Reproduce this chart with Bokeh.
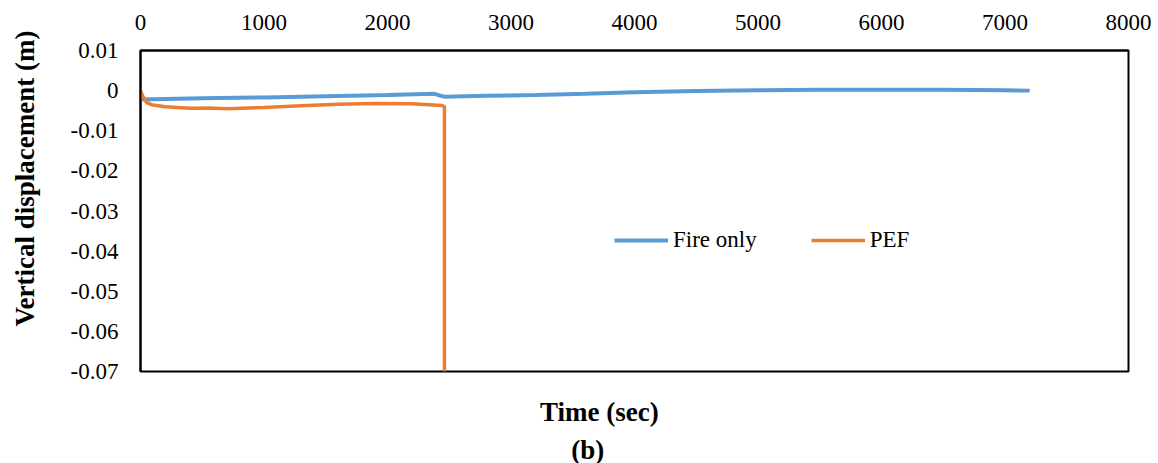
import math
from bokeh.plotting import figure
from bokeh.layouts import row, column
from bokeh.models import (FixedTicker, CustomJSTickFormatter, Label, Legend, LegendItem, Range1d)
from bokeh.embed import file_html
from bokeh.resources import INLINE

# ---- data ----
time_fire = [0, 500, 1000, 1500, 2000, 2380, 2420, 2460, 2800, 3200, 3600, 4000,
             4500, 5000, 5500, 6000, 6500, 7000, 7200]
disp_fire = [-0.0022, -0.0019, -0.0017, -0.0014, -0.0011, -0.0008, -0.0012, -0.0015,
             -0.0013, -0.0011, -0.0008, -0.0004, -0.0001, 0.0001, 0.0002, 0.0002,
             0.0002, 0.0001, 0.0000]

time_pef = [0, 20, 50, 100, 200, 400, 550, 700, 1000, 1300, 1600, 1900, 2200,
            2440, 2461, 2461]
disp_pef = [0.0000, -0.0015, -0.0030, -0.0036, -0.0040, -0.0044, -0.0043, -0.0045,
            -0.0042, -0.0038, -0.0034, -0.0032, -0.0033, -0.0037, -0.0040, -0.0700]

x_ticks = [0, 1000, 2000, 3000, 4000, 5000, 6000, 7000, 8000]
y_ticks = [0.01, 0.0, -0.01, -0.02, -0.03, -0.04, -0.05, -0.06, -0.07]

series_names = ["Fire only", "PEF"]
x_title = "Time (sec)"
y_title = "Vertical displacement (m)"
caption = "(b)"

BLUE = "#5B9BD5"
ORANGE = "#ED7D31"
FONT = "Liberation Serif"

LEFT_W = 60          # strip holding the vertical axis title
MAIN_W = 1158 - LEFT_W
MAIN_H = 390
BOT_H = 463 - MAIN_H

# ---- main chart ----
p = figure(width=MAIN_W, height=MAIN_H, output_backend="svg", toolbar_location=None,
           x_range=Range1d(0, 8000), y_range=Range1d(-0.07, 0.01),
           x_axis_location="above", min_border_left=140 - LEFT_W, min_border_right=30,
           min_border_top=50, min_border_bottom=MAIN_H - 371)
p.background_fill_color = "white"
p.border_fill_color = "white"
p.outline_line_color = "black"
p.outline_line_width = 2
p.xgrid.visible = False
p.ygrid.visible = False

for ax in (p.xaxis[0], p.yaxis[0]):
    ax.axis_line_color = "black"
    ax.axis_line_width = 2
    ax.major_tick_out = 0
    ax.major_tick_in = 0
    ax.minor_tick_out = 0
    ax.minor_tick_in = 0
    ax.major_label_text_font = FONT
    ax.major_label_text_font_size = "23px"
    ax.major_label_text_color = "black"

p.xaxis[0].ticker = FixedTicker(ticks=x_ticks)
p.xaxis[0].major_label_standoff = 21
p.yaxis[0].ticker = FixedTicker(ticks=y_ticks)
p.yaxis[0].major_label_standoff = 22
p.yaxis[0].formatter = CustomJSTickFormatter(
    code="return Math.abs(tick) < 1e-9 ? '0' : tick.toFixed(2);")

r1 = p.line(time_fire, disp_fire, line_color=BLUE, line_width=4)
r2 = p.line(time_pef, disp_pef, line_color=ORANGE, line_width=3.5)

legend = Legend(items=[LegendItem(label=series_names[0], renderers=[r1]),
                       LegendItem(label=series_names[1], renderers=[r2])],
                orientation="horizontal", location=(474, 117),
                padding=0, margin=0, spacing=54, glyph_width=54, glyph_height=28,
                label_standoff=5, border_line_color=None, background_fill_alpha=0,
                label_text_font=FONT, label_text_font_size="23px",
                label_text_color="black")
p.add_layout(legend, "center")


def text_strip(w, h):
    f = figure(width=w, height=h, output_backend="svg", toolbar_location=None,
               x_range=Range1d(0, w), y_range=Range1d(0, h),
               x_axis_type=None, y_axis_type=None,
               min_border=0, min_border_left=0, min_border_right=0,
               min_border_top=0, min_border_bottom=0)
    f.outline_line_color = None
    f.background_fill_color = "white"
    f.border_fill_color = "white"
    f.xgrid.visible = False
    f.ygrid.visible = False
    return f


def title_label(x, y, text, angle=0.0):
    return Label(x=x, y=y, text=text, angle=angle, text_font=FONT,
                 text_font_size="27px", text_font_style="bold", text_color="black",
                 text_align="center", text_baseline="middle")

# strip on the left: vertical axis title
left = text_strip(LEFT_W, 463)
left.add_layout(title_label(24, 463 - 178, y_title, math.pi / 2))

# strip below: horizontal axis title and caption
SHIFT = 27
bottom = text_strip(MAIN_W, BOT_H)
bottom.add_layout(title_label(597 - LEFT_W - SHIFT, BOT_H - (411 - MAIN_H), x_title))
bottom.add_layout(title_label(584 - LEFT_W - SHIFT, BOT_H - (449 - MAIN_H), caption))

layout = row(left, column(p, bottom, spacing=0), spacing=0)

open("out.html", "w").write(file_html(layout, INLINE))
